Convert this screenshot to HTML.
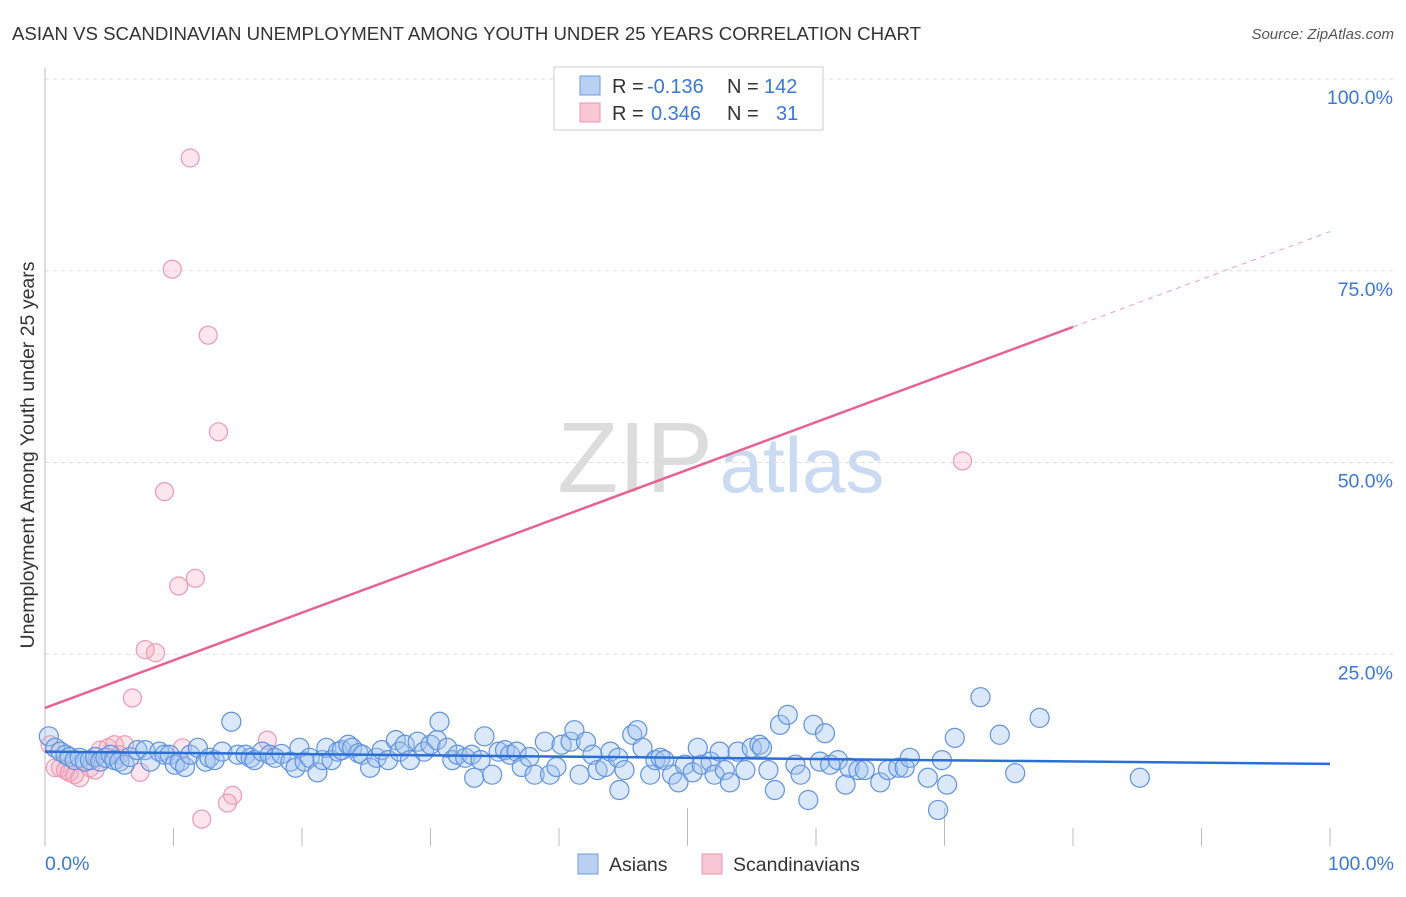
<!DOCTYPE html>
<html><head><meta charset="utf-8">
<style>
body{margin:0;background:#fff;font-family:"Liberation Sans",sans-serif;}
svg text{font-family:"Liberation Sans",sans-serif;}
</style></head>
<body>
<svg width="1406" height="892" viewBox="0 0 1406 892">
<text x="12" y="40" font-size="18" fill="#333" textLength="909" lengthAdjust="spacingAndGlyphs">ASIAN VS SCANDINAVIAN UNEMPLOYMENT AMONG YOUTH UNDER 25 YEARS CORRELATION CHART</text>
<text x="1394" y="39" font-size="15" fill="#555" font-style="italic" text-anchor="end">Source: ZipAtlas.com</text>
<text x="635" y="492" font-size="100" fill="#dcdcdc" font-family="Liberation Serif" text-anchor="middle">ZIP</text>
<text x="802" y="492" font-size="78" fill="#c9daf2" text-anchor="middle">atlas</text>
<g id="grid"></g>
<g id="ticks"></g>
<line x1="45" y1="68" x2="45" y2="846" stroke="#bbb" stroke-width="1"/>
<text x="34" y="455" font-size="19.5" fill="#333" text-anchor="middle" transform="rotate(-90 34 455)">Unemployment Among Youth under 25 years</text>
<text x="45" y="870" font-size="19.5" fill="#3a78d6">0.0%</text>
<text x="1394" y="870" font-size="19.5" fill="#3a78d6" text-anchor="end">100.0%</text>
<g id="pts"></g>
<g id="trend"></g>
<g>
<rect x="554" y="67" width="269" height="63" fill="#fff" stroke="#ccc"/>
<rect x="580" y="76" width="20" height="19" fill="#b9d0f3" stroke="#6b9be0"/>
<rect x="580" y="103" width="20" height="19" fill="#f8c6d4" stroke="#e996af"/>
<text y="93" font-size="20" fill="#333"><tspan x="612">R =</tspan><tspan x="647" fill="#3a78d6">-0.136</tspan><tspan x="727">N =</tspan><tspan x="764" fill="#3a78d6">142</tspan></text>
<text y="120" font-size="20" fill="#333"><tspan x="612">R =</tspan><tspan x="651" fill="#3a78d6">0.346</tspan><tspan x="727">N =</tspan><tspan x="776" fill="#3a78d6">31</tspan></text>
</g>
<g>
<rect x="578" y="854" width="20" height="20" fill="#b9d0f3" stroke="#6b9be0"/>
<text x="609" y="871" font-size="19.5" fill="#333">Asians</text>
<rect x="702" y="854" width="20" height="20" fill="#f8c6d4" stroke="#e996af"/>
<text x="733" y="871" font-size="19.5" fill="#333">Scandinavians</text>
</g>
</svg>
<script>
const yTicks=[25,50,75,100];
const yTickLabels=["25.0%","50.0%","75.0%","100.0%"];
const xTicks=[0,10,20,30,40,50,60,70,80,90,100];
const asianX=[0.3,0.8,1.2,1.6,1.9,2.3,2.7,3.1,3.5,3.9,4.3,4.7,5.1,5.4,5.8,6.2,6.6,7.2,7.8,8.2,8.9,9.3,9.7,10.1,10.5,10.9,11.3,11.9,12.5,12.8,13.2,13.8,14.5,15.0,15.6,16.0,16.3,16.9,17.5,17.9,18.4,19.1,19.5,19.8,20.2,20.6,21.2,21.6,21.9,22.3,22.8,23.1,23.6,23.9,24.4,24.7,25.3,25.8,26.2,26.7,27.3,27.6,28.0,28.4,29.0,29.5,30.0,30.5,30.7,31.3,31.7,32.1,32.7,33.2,33.4,33.9,34.2,34.8,35.3,35.8,36.2,36.7,37.1,37.7,38.1,38.9,39.3,39.8,40.2,40.9,41.2,41.6,42.1,42.6,43.0,43.6,44.0,44.6,44.7,45.1,45.7,46.1,46.5,47.1,47.5,47.9,48.2,48.8,49.3,49.8,50.4,50.8,51.1,51.8,52.1,52.5,52.9,53.3,53.9,54.5,55.0,55.6,55.8,56.3,56.8,57.2,57.8,58.4,58.8,59.4,59.8,60.3,60.7,61.1,61.7,62.3,62.6,63.3,63.8,65.0,65.6,66.4,66.9,67.3,68.7,69.5,69.8,70.2,70.8,72.8,74.3,75.5,77.4,85.2];
const asianY=[14.3,12.8,12.3,11.9,11.6,11.2,11.5,11.0,11.2,11.6,11.0,11.5,11.9,11.2,11.0,10.6,11.6,12.5,12.5,11.0,12.3,11.9,11.9,10.6,11.0,10.3,11.9,12.8,11.0,11.5,11.2,12.3,16.2,11.9,11.9,11.5,11.2,12.3,11.9,11.5,12.0,11.0,10.2,12.8,11.0,11.5,9.6,11.2,12.8,11.2,12.3,12.5,13.2,12.8,12.1,11.9,10.2,11.5,12.5,11.2,13.8,12.3,13.2,11.2,13.6,12.3,13.2,13.8,16.2,12.8,11.2,11.9,11.5,11.9,8.9,11.2,14.3,9.3,12.3,12.5,11.9,12.3,10.3,11.6,9.3,13.6,9.3,10.3,13.2,13.6,15.1,9.3,13.6,11.9,9.9,10.3,12.3,11.5,7.3,9.9,14.5,15.1,12.8,9.3,11.2,11.5,11.2,9.3,8.3,10.6,9.6,12.8,10.6,11.0,9.3,12.3,9.9,8.3,12.3,9.9,12.8,13.2,12.8,9.9,7.3,15.8,17.1,10.6,9.3,6.0,15.8,11.0,14.7,10.6,11.2,8.0,10.2,9.9,9.9,8.3,9.9,10.2,10.2,11.5,8.9,4.7,11.2,8.0,14.1,19.4,14.5,9.5,16.7,8.9];
const scandX=[11.3,9.9,12.7,13.5,9.3,11.7,10.4,7.8,8.6,6.8,17.3,14.6,14.2,12.2,71.4,0.4,0.8,1.2,1.6,1.9,2.3,2.7,3.5,3.9,4.3,4.9,5.4,6.2,7.4,10.7,5.8];
const scandY=[89.7,75.2,66.6,54.0,46.2,34.9,33.9,25.6,25.2,19.3,13.8,6.6,5.6,3.5,50.2,13.2,10.2,10.2,9.9,9.6,9.3,8.9,10.2,9.9,12.5,12.8,13.2,13.2,9.6,12.8,11.9];
const asianTrend=[12.3,10.7];
const scandTrend=[18.0,80.1];
const scandSolidEnd=80;

const NS="http://www.w3.org/2000/svg";
const X0=45,X1=1330,Y0=846,Y1=79;
const sx=v=>X0+(X1-X0)*v/100;
const sy=v=>Y0-(Y0-Y1)*v/100;
function mk(tag,attrs,parent){const e=document.createElementNS(NS,tag);for(const k in attrs)e.setAttribute(k,attrs[k]);parent.appendChild(e);return e;}
const grid=document.getElementById('grid');
yTicks.forEach((t,i)=>{
  const l=mk('line',{x1:45,x2:1394,y1:sy(t),y2:sy(t),stroke:'#ddd','stroke-dasharray':'4,4'},grid);
  
  
  const tx=mk('text',{x:1393,y:sy(t)+25,'font-size':19.5,fill:'#3a78d6','text-anchor':'end'},grid);
  tx.textContent=yTickLabels[i];
  
  
});
const ticks=document.getElementById('ticks');
xTicks.forEach(t=>{
  const l=mk('line',{x1:sx(t),x2:sx(t),y1:(t==50||t==70)?808:828,y2:846,stroke:'#bbb'},ticks);
  
  
});
const pts=document.getElementById('pts');
scandX.forEach((x,i)=>{
  const c=mk('circle',{cx:sx(x),cy:sy(scandY[i]),r:9,fill:'rgba(246,170,192,0.3)',stroke:'#eb9ab2','stroke-width':1.2},pts);
  
  
});
asianX.forEach((x,i)=>{
  const c=mk('circle',{cx:sx(x),cy:sy(asianY[i]),r:9.5,fill:'rgba(160,195,240,0.38)',stroke:'#5f93dd','stroke-width':1.2},pts);
  
  
});
const tr=document.getElementById('trend');
const at=mk('line',{x1:sx(0),y1:sy(asianTrend[0]),x2:sx(100),y2:sy(asianTrend[1]),stroke:'#2a6fd6','stroke-width':2.5},tr);


const sEnd=scandTrend[0]+(scandTrend[1]-scandTrend[0])*scandSolidEnd/100;
const st=mk('line',{x1:sx(0),y1:sy(scandTrend[0]),x2:sx(scandSolidEnd),y2:sy(sEnd),stroke:'#e8628f','stroke-width':2.5},tr);


const sd=mk('line',{x1:sx(scandSolidEnd),y1:sy(sEnd),x2:sx(100),y2:sy(scandTrend[1]),stroke:'#e8a0b8','stroke-width':1,'stroke-dasharray':'5,5'},tr);


</script>
</body></html>
